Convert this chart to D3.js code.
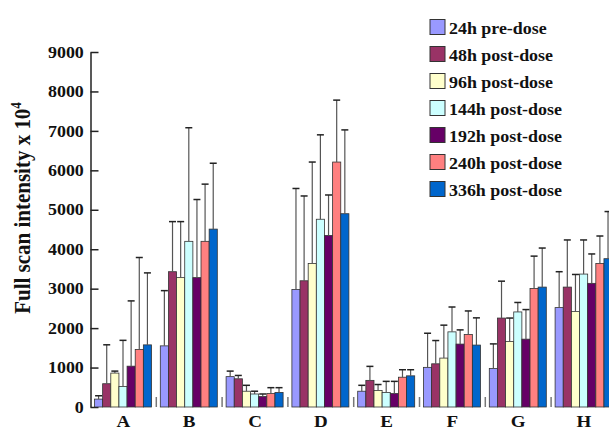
<!DOCTYPE html>
<html>
<head>
<meta charset="utf-8">
<script src="https://cdn.jsdelivr.net/npm/d3@7/dist/d3.min.js"></script>
<style>
  body { margin: 0; background: #fff; }
  svg { display: block; font-family: "Liberation Serif", "Times New Roman", serif; font-weight: bold; }
</style>
</head>
<body>
<div id="svganchor"></div>
<script>
// categories and series
const groups = ["A", "B", "C", "D", "E", "F", "G", "H"];
const seriesNames = ["24h pre-dose", "48h post-dose", "96h post-dose", "144h post-dose",
  "192h post-dose", "240h post-dose", "336h post-dose"];

// bar heights (mean)
const mean24  = [200, 1550, 770, 2980, 400, 1005, 975, 2520];
const mean48  = [590, 3430, 715, 3200, 675, 1095, 2255, 3040];
const mean96  = [860, 3280, 400, 3640, 420, 1240, 1660, 2420];
const mean144 = [520, 4200, 330, 4760, 370, 1905, 2410, 3370];
const mean192 = [1035, 3280, 265, 4350, 340, 1595, 1720, 3135];
const mean240 = [1460, 4200, 340, 6210, 755, 1840, 3005, 3640];
const mean336 = [1575, 4510, 370, 4900, 790, 1570, 3040, 3760];

// top of each error bar (mean + sd)
const upper24  = [285, 2950, 910, 5540, 550, 1870, 1600, 3430];
const upper48  = [1577, 4700, 800, 5350, 1030, 1685, 3190, 4235];
const upper96  = [910, 4700, 550, 6210, 570, 2075, 2255, 3360];
const upper144 = [1690, 7080, 400, 6900, 650, 2535, 2650, 4235];
const upper192 = [2690, 5260, 330, 5375, 650, 1955, 2470, 3880];
const upper240 = [3790, 5650, 490, 7780, 945, 2435, 3825, 4335];
const upper336 = [3400, 6180, 490, 7025, 945, 2260, 4030, 4955];

const yTicks = [0, 1000, 2000, 3000, 4000, 5000, 6000, 7000, 8000, 9000];

const colors = ["#9999ff", "#993366", "#ffffcc", "#ccffff", "#660066", "#ff8080", "#0066cc"];

/*
------------------------------
build rows for drawing
------------------------------
*/
const means = [mean24, mean48, mean96, mean144, mean192, mean240, mean336];
const uppers = [upper24, upper48, upper96, upper144, upper192, upper240, upper336];

const rows = [];
groups.forEach(function (g, gi) {
  seriesNames.forEach(function (s, si) {
    rows.push({ group: g, series: s, value: means[si][gi], upper: uppers[si][gi] });
  });
});

const width = 609;
const height = 431;
const stretch = 1.12; // text in the source is a bit wide

const svg = d3.select("#svganchor")
  .append("svg")
  .attr("width", width)
  .attr("height", height);

svg.append("rect").attr("width", width).attr("height", height).attr("fill", "#fff");

const x0 = d3.scaleBand()
  .domain(groups)
  .range([90.5, 90.5 + 8 * 65.8]);

const x1 = d3.scaleBand()
  .domain(seriesNames)
  .range([4, 61]);

const y = d3.scaleLinear()
  .domain([0, 9000])
  .range([407, 52]);

const color = d3.scaleOrdinal()
  .domain(seriesNames)
  .range(colors);

// y axis, ticks point inward
const yAxis = svg.append("g")
  .attr("transform", "translate(90.5,0)")
  .call(d3.axisLeft(y)
    .tickValues(yTicks)
    .tickFormat(d3.format("d"))
    .tickSizeInner(-8)
    .tickSizeOuter(0)
    .tickPadding(6));

yAxis.select(".domain").attr("stroke", "#222").attr("stroke-width", 1.5);
yAxis.selectAll(".tick line").attr("stroke", "#222").attr("stroke-width", 1.5);
yAxis.selectAll(".tick text")
  .attr("fill", "#111")
  .style("font-size", "16px")
  .style("font-family", "'Liberation Serif', 'Times New Roman', serif")
  .style("font-weight", "bold")
  .attr("transform", "scale(" + stretch + ",1)");

// small separators between groups
svg.selectAll(".sep")
  .data(groups.slice(1))
  .enter()
  .append("line")
  .attr("class", "sep")
  .attr("x1", d => x0(d))
  .attr("x2", d => x0(d))
  .attr("y1", y(0))
  .attr("y2", y(0) - 10)
  .attr("stroke", "#777")
  .attr("stroke-width", 1.5);

// bars
svg.selectAll(".bar")
  .data(rows)
  .enter()
  .append("rect")
  .attr("class", "bar")
  .attr("x", d => x0(d.group) + x1(d.series))
  .attr("y", d => y(d.value))
  .attr("width", x1.bandwidth())
  .attr("height", d => y(0) - y(d.value))
  .attr("fill", d => color(d.series))
  .attr("stroke", "#333")
  .attr("stroke-width", 0.8);

// upper error bars
const err = svg.selectAll(".err")
  .data(rows)
  .enter()
  .append("g")
  .attr("class", "err")
  .attr("transform", d => "translate(" + (x0(d.group) + x1(d.series) + x1.bandwidth() / 2) + ",0)");

err.append("line")
  .attr("y1", d => y(d.value))
  .attr("y2", d => y(d.upper))
  .attr("stroke", "#555")
  .attr("stroke-width", 1.2);

err.append("line")
  .attr("x1", -3.5)
  .attr("x2", 3.5)
  .attr("y1", d => y(d.upper))
  .attr("y2", d => y(d.upper))
  .attr("stroke", "#222")
  .attr("stroke-width", 1.5);

// category labels
svg.selectAll(".xlab")
  .data(groups)
  .enter()
  .append("text")
  .attr("class", "xlab")
  .attr("transform", d => "translate(" + (x0(d) + x0.bandwidth() / 2) + ",427) scale(" + stretch + ",1)")
  .attr("text-anchor", "middle")
  .attr("fill", "#111")
  .style("font-size", "17px")
  .text(d => d);

// y axis title
const title = svg.append("text")
  .attr("transform", "translate(30,208) scale(" + stretch + ",1) rotate(-90)")
  .attr("text-anchor", "middle")
  .attr("fill", "#111")
  .style("font-size", "21px");
title.append("tspan").text("Full scan intensity x 10");
title.append("tspan").attr("dy", -8).style("font-size", "13px").text("4");

// legend
const legend = svg.selectAll(".legend")
  .data(seriesNames)
  .enter()
  .append("g")
  .attr("class", "legend")
  .attr("transform", (d, i) => "translate(430," + (19.5 + i * 27) + ")");

legend.append("rect")
  .attr("width", 15)
  .attr("height", 15)
  .attr("fill", d => color(d))
  .attr("stroke", "#333")
  .attr("stroke-width", 1);

legend.append("text")
  .attr("transform", "translate(19,14) scale(" + stretch + ",1)")
  .attr("fill", "#111")
  .style("font-size", "16px")
  .text(d => d);
</script>
</body>
</html>
